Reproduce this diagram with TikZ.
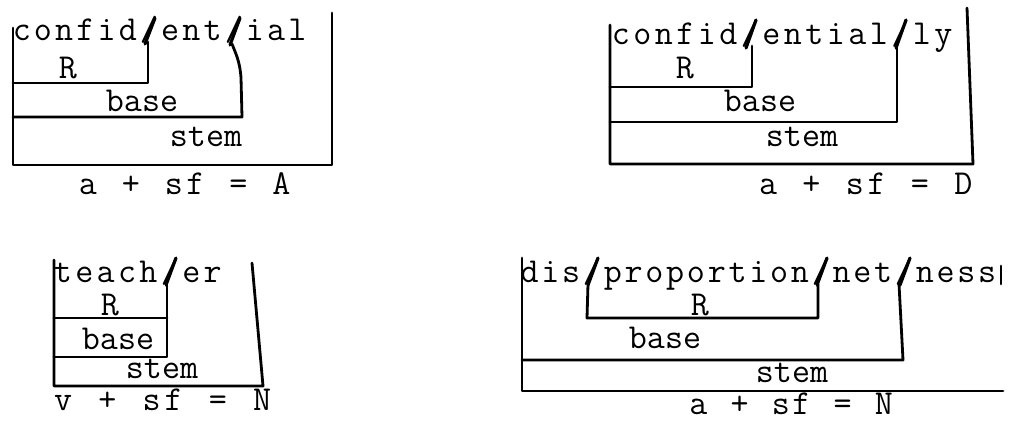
\documentclass[tikz,border=0pt]{standalone}
\usepackage{fontspec}
% typewriter text: every character sits in a cell of fixed pitch
\newlength\charpitch
\makeatletter
\newcommand\pitched[2]{\setlength\charpitch{#1}\pitched@#2\relax}
\def\pitched@#1{\ifx#1\relax\else\makebox[\charpitch]{#1}\expandafter\pitched@\fi}
\makeatother
\tikzset{
  typed/.style={font=\fontsize{35}{35}\selectfont\ttfamily, inner sep=0pt, anchor=base},
  word/.style={typed, anchor=base west},
  rule/.style={line width=2.8pt, line cap=round, line join=round},
  cut/.style={line width=3.2pt, line cap=round},
}
\begin{document}
\begin{tikzpicture}[x=1pt, y=-1pt]
\fill[white] (0,0) rectangle (1019,420);
\useasboundingbox (0,0) rectangle (1019,420);

% ---------- confid/ent/ial ----------
\node[word] (w1) at (11,41) {\pitched{21.2pt}{confid/ent/ial}};
\node[typed] (r1) at (68,78) {R};
\node[typed] (b1) at (142,111) {base};
\node[typed] (s1) at (206,146) {stem};
\node[word] (f1) at (77,194) {\pitched{21.5pt}{a~+~sf~=~A}};
\draw[cut] (145,44) -- (155,18);
\draw[cut] (230,45) -- (240,18);
\draw[rule] (13,28) -- (13,165) -- (332,165) -- (332,13);
\draw[rule] (13,83) -- (148,83) -- (148,42);
\draw[rule] (13,117) -- (242,117) -- (241,78) .. controls (240,62) and (236,54) .. (232,44);

% ---------- confid/ential/ly ----------
\node[word] (w2) at (610,45) {\pitched{21.5pt}{confid/ential/ly}};
\node[typed] (r2) at (685,78) {R};
\node[typed] (b2) at (760,111) {base};
\node[typed] (s2) at (802,146) {stem};
\node[word] (f2) at (757,194) {\pitched{21.7pt}{a~+~sf~=~D}};
\draw[cut] (746,48) -- (756,20);
\draw[cut] (896,48) -- (906,20);
\draw[rule] (610,25) -- (610,164) -- (973,164) -- (967,8);
\draw[rule] (610,87) -- (752,87) -- (752,46);
\draw[rule] (610,122) -- (897,122) -- (897,48);

% ---------- teach/er ----------
\node[word] (w3) at (52,282) {\pitched{21.4pt}{teach/er}};
\node[typed] (r3) at (110,315) {R};
\node[typed] (b3) at (118,349) {base};
\node[typed] (s3) at (162,378) {stem};
\node[word] (f3) at (52,410) {\pitched{22.1pt}{v~+~sf~=~N}};
\draw[cut] (166,285) -- (176,258);
\draw[rule] (54,260) -- (54,386) -- (263,386) -- (252,263);
\draw[rule] (54,318) -- (167,318);
\draw[rule] (54,357) -- (167,357) -- (167,284);

% ---------- dis/proportion/net/ness ----------
\node[word] (w4) at (519,282) {\pitched{20.8pt}{dis/proportion/net/ness}};
\node[typed] (r4) at (700,315) {R};
\node[typed] (b4) at (665,348) {base};
\node[typed] (s4) at (792,382) {stem};
\node[word] (f4) at (688,414) {\pitched{20.6pt}{a~+~sf~=~N}};
\draw[cut] (588,285) -- (598,258);
\draw[cut] (817,285) -- (827,258);
\draw[cut] (900,285) -- (910,258);
\draw[rule] (522,258) -- (522,391) -- (1003,391);
\draw[rule] (588,284) -- (587,318) -- (818,318) -- (818,284);
\draw[rule] (899,284) -- (903,360) -- (522,360);
\draw[rule] (1001,266) -- (1001,284);
\end{tikzpicture}
\end{document}
